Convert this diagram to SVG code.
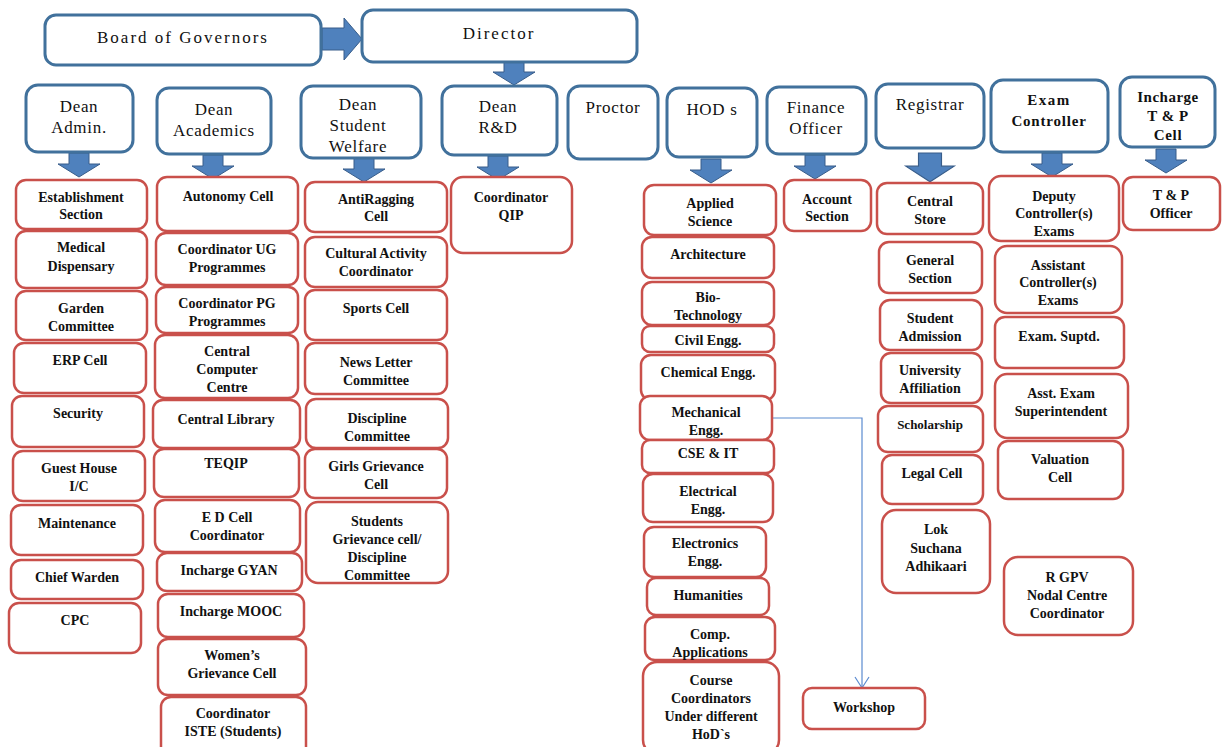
<svg xmlns="http://www.w3.org/2000/svg" xmlns:xlink="http://www.w3.org/1999/xlink" width="1222" height="747" viewBox="0 0 1222 747">
<style>
.hd{fill:#fff;stroke:#41719c;stroke-width:3}
.ch{fill:#fff;stroke:#c9504b;stroke-width:2.5}
.ht{font-family:"Liberation Serif",serif;font-size:17px;fill:#111;text-anchor:middle;letter-spacing:0.7px}
.ct{font-family:"Liberation Serif",serif;font-size:14px;font-weight:bold;fill:#111;text-anchor:middle}
.arr{fill:#4f81bd;stroke:#385d8a;stroke-width:1}
.ln{fill:none;stroke:#5b8bd0;stroke-width:1.2}
</style>
<defs>
<path id="darr" d="M-10,0 H10 V11 H21 L0,24 L-21,11 H-10 Z"/>
<marker id="open" markerWidth="14" markerHeight="16" refX="12" refY="8" orient="auto" markerUnits="userSpaceOnUse">
<path d="M1,1 L12,8 L1,15" fill="none" stroke="#5b8bd0" stroke-width="1.2"/>
</marker>
</defs>
<rect width="1222" height="747" fill="#fff"/>

<g id="connectors">
<path class="arr" d="M322,28 H344 V18 L362,39 L344,60 V50 H322 Z"/>
<use href="#darr" class="arr" x="514" y="61"/>
<use href="#darr" class="arr" x="79" y="153"/>
<use href="#darr" class="arr" x="213" y="155"/>
<use href="#darr" class="arr" x="364" y="158"/>
<use href="#darr" class="arr" x="498" y="156"/>
<use href="#darr" class="arr" x="711" y="159"/>
<use href="#darr" class="arr" x="815" y="155"/>
<use href="#darr" class="arr" transform="translate(930,153) scale(1.15,1.2)"/>
<use href="#darr" class="arr" x="1052" y="153"/>
<use href="#darr" class="arr" x="1166" y="149"/>
<path class="ln" d="M772,418 H862 V688" marker-end="url(#open)"/>
</g>

<g id="board"><rect class="hd" x="45" y="15" width="276" height="50" rx="11"/><text class="ht" x="183" y="43" style="letter-spacing:2px">Board of Governors</text></g>
<g id="director"><rect class="hd" x="362" y="10" width="275" height="52" rx="11"/><text class="ht" x="499" y="39" style="letter-spacing:2px">Director</text></g>

<g id="dean-admin"><rect class="hd" x="26" y="85" width="107" height="67" rx="12"/><text class="ht" x="79" y="112">Dean</text><text class="ht" x="79" y="133">Admin.</text></g>
<g id="dean-academics"><rect class="hd" x="157" y="88" width="114" height="66" rx="12"/><text class="ht" x="214" y="115">Dean</text><text class="ht" x="214" y="136">Academics</text></g>
<g id="dean-sw"><rect class="hd" x="301" y="86" width="120" height="72" rx="12"/><text class="ht" x="358" y="110">Dean</text><text class="ht" x="358" y="131">Student</text><text class="ht" x="358" y="152">Welfare</text></g>
<g id="dean-rd"><rect class="hd" x="442" y="86" width="115" height="69" rx="12"/><text class="ht" x="498" y="112">Dean</text><text class="ht" x="498" y="133">R&amp;D</text></g>
<g id="proctor"><rect class="hd" x="568" y="86" width="90" height="73" rx="12"/><text class="ht" x="613" y="113">Proctor</text></g>
<g id="hods"><rect class="hd" x="667" y="88" width="90" height="69" rx="12"/><text class="ht" x="712" y="115">HOD s</text></g>
<g id="finance"><rect class="hd" x="767" y="87" width="99" height="67" rx="12"/><text class="ht" x="816" y="113">Finance</text><text class="ht" x="816" y="134">Officer</text></g>
<g id="registrar"><rect class="hd" x="876" y="84" width="108" height="64" rx="12"/><text class="ht" x="930" y="110">Registrar</text></g>
<g id="exam-controller"><rect class="hd" x="991" y="80" width="117" height="72" rx="12"/><text class="ht" x="1049" y="105" style="font-size:15px;font-weight:bold;letter-spacing:1.5px">Exam</text><text class="ht" x="1049" y="126" style="font-size:15px;font-weight:bold;letter-spacing:0.8px">Controller</text></g>
<g id="tp-cell"><rect class="hd" x="1120" y="77" width="95" height="70" rx="12"/><text class="ht" x="1168" y="102" style="font-size:15px;font-weight:bold;letter-spacing:0.5px">Incharge</text><text class="ht" x="1168" y="121" style="font-size:15px;font-weight:bold;letter-spacing:0.5px">T &amp; P</text><text class="ht" x="1168" y="140" style="font-size:15px;font-weight:bold">Cell</text></g>

<!-- Dean Admin column -->
<g id="establishment"><rect class="ch" x="16" y="180" width="131" height="49" rx="10"/><text class="ct" x="81" y="202">Establishment</text><text class="ct" x="81" y="219">Section</text></g>
<g id="medical"><rect class="ch" x="16" y="231" width="131" height="57" rx="10"/><text class="ct" x="81" y="252">Medical</text><text class="ct" x="81" y="271">Dispensary</text></g>
<g id="garden"><rect class="ch" x="16" y="291" width="131" height="49" rx="10"/><text class="ct" x="81" y="313">Garden</text><text class="ct" x="81" y="331">Committee</text></g>
<g id="erp"><rect class="ch" x="14" y="343" width="132" height="50" rx="10"/><text class="ct" x="80" y="365">ERP Cell</text></g>
<g id="security"><rect class="ch" x="12" y="396" width="132" height="51" rx="10"/><text class="ct" x="78" y="418">Security</text></g>
<g id="guesthouse"><rect class="ch" x="13" y="451" width="132" height="50" rx="10"/><text class="ct" x="79" y="473">Guest House</text><text class="ct" x="79" y="491">I/C</text></g>
<g id="maintenance"><rect class="ch" x="11" y="505" width="132" height="50" rx="10"/><text class="ct" x="77" y="528">Maintenance</text></g>
<g id="chiefwarden"><rect class="ch" x="11" y="560" width="132" height="39" rx="10"/><text class="ct" x="77" y="582">Chief  Warden</text></g>
<g id="cpc"><rect class="ch" x="9" y="603" width="132" height="50" rx="10"/><text class="ct" x="75" y="625">CPC</text></g>

<!-- Dean Academics column -->
<g id="autonomy"><rect class="ch" x="157" y="177" width="141" height="54" rx="10"/><text class="ct" x="228" y="201">Autonomy Cell</text></g>
<g id="ug"><rect class="ch" x="156" y="233" width="142" height="52" rx="10"/><text class="ct" x="227" y="254">Coordinator UG</text><text class="ct" x="227" y="272">Programmes</text></g>
<g id="pg"><rect class="ch" x="156" y="287" width="142" height="46" rx="10"/><text class="ct" x="227" y="308">Coordinator PG</text><text class="ct" x="227" y="326">Programmes</text></g>
<g id="ccc"><rect class="ch" x="155" y="335" width="143" height="63" rx="10"/><text class="ct" x="227" y="356">Central</text><text class="ct" x="227" y="374">Computer</text><text class="ct" x="227" y="392">Centre</text></g>
<g id="library"><rect class="ch" x="153" y="400" width="147" height="48" rx="10"/><text class="ct" x="226" y="424">Central Library</text></g>
<g id="teqip"><rect class="ch" x="154" y="449" width="145" height="48" rx="10"/><text class="ct" x="226" y="468">TEQIP</text></g>
<g id="edcell"><rect class="ch" x="155" y="500" width="145" height="52" rx="10"/><text class="ct" x="227" y="522">E D Cell</text><text class="ct" x="227" y="540">Coordinator</text></g>
<g id="gyan"><rect class="ch" x="157" y="553" width="145" height="38" rx="10"/><text class="ct" x="229" y="575">Incharge GYAN</text></g>
<g id="mooc"><rect class="ch" x="158" y="594" width="146" height="43" rx="10"/><text class="ct" x="231" y="616">Incharge MOOC</text></g>
<g id="womens"><rect class="ch" x="158" y="639" width="148" height="56" rx="10"/><text class="ct" x="232" y="660">Women’s</text><text class="ct" x="232" y="678">Grievance  Cell</text></g>
<g id="iste"><rect class="ch" x="161" y="697" width="145" height="62" rx="10"/><text class="ct" x="233" y="718">Coordinator</text><text class="ct" x="233" y="736">ISTE (Students)</text></g>

<!-- Dean Student Welfare column -->
<g id="antiragging"><rect class="ch" x="305" y="182" width="142" height="50" rx="10"/><text class="ct" x="376" y="204">AntiRagging</text><text class="ct" x="376" y="221">Cell</text></g>
<g id="cultural"><rect class="ch" x="305" y="237" width="142" height="50" rx="10"/><text class="ct" x="376" y="258">Cultural Activity</text><text class="ct" x="376" y="276">Coordinator</text></g>
<g id="sports"><rect class="ch" x="305" y="290" width="142" height="50" rx="10"/><text class="ct" x="376" y="313">Sports Cell</text></g>
<g id="newsletter"><rect class="ch" x="305" y="343" width="142" height="51" rx="10"/><text class="ct" x="376" y="367">News Letter</text><text class="ct" x="376" y="385">Committee</text></g>
<g id="discipline"><rect class="ch" x="306" y="399" width="142" height="49" rx="10"/><text class="ct" x="377" y="423">Discipline</text><text class="ct" x="377" y="441">Committee</text></g>
<g id="girls"><rect class="ch" x="305" y="449" width="142" height="49" rx="10"/><text class="ct" x="376" y="471">Girls  Grievance</text><text class="ct" x="376" y="489">Cell</text></g>
<g id="studentsgrievance"><rect class="ch" x="306" y="502" width="142" height="81" rx="12"/><text class="ct" x="377" y="526">Students</text><text class="ct" x="377" y="544">Grievance cell/</text><text class="ct" x="377" y="562">Discipline</text><text class="ct" x="377" y="580">Committee</text></g>

<!-- Dean R&D -->
<g id="qip"><rect class="ch" x="451" y="177" width="121" height="76" rx="12"/><text class="ct" x="511" y="202">Coordinator</text><text class="ct" x="511" y="220">QIP</text></g>

<!-- HODs column -->
<g id="applied"><rect class="ch" x="644" y="185" width="132" height="50" rx="10"/><text class="ct" x="710" y="208">Applied</text><text class="ct" x="710" y="226">Science</text></g>
<g id="architecture"><rect class="ch" x="642" y="237" width="132" height="41" rx="10"/><text class="ct" x="708" y="259">Architecture</text></g>
<g id="biotech"><rect class="ch" x="642" y="282" width="132" height="43" rx="10"/><text class="ct" x="708" y="302">Bio-</text><text class="ct" x="708" y="320">Technology</text></g>
<g id="civil"><rect class="ch" x="642" y="326" width="132" height="26" rx="8"/><text class="ct" x="708" y="345">Civil  Engg.</text></g>
<g id="chemical"><rect class="ch" x="641" y="355" width="134" height="45" rx="10"/><text class="ct" x="708" y="377">Chemical Engg.</text></g>
<g id="mechanical"><rect class="ch" x="640" y="396" width="132" height="44" rx="10"/><text class="ct" x="706" y="417">Mechanical</text><text class="ct" x="706" y="435">Engg.</text></g>
<g id="cse"><rect class="ch" x="642" y="440" width="132" height="33" rx="8"/><text class="ct" x="708" y="458">CSE &amp; IT</text></g>
<g id="electrical"><rect class="ch" x="643" y="474" width="130" height="48" rx="10"/><text class="ct" x="708" y="496">Electrical</text><text class="ct" x="708" y="514">Engg.</text></g>
<g id="electronics"><rect class="ch" x="644" y="527" width="122" height="50" rx="10"/><text class="ct" x="705" y="548">Electronics</text><text class="ct" x="705" y="566">Engg.</text></g>
<g id="humanities"><rect class="ch" x="647" y="578" width="122" height="37" rx="9"/><text class="ct" x="708" y="600">Humanities</text></g>
<g id="compapp"><rect class="ch" x="645" y="617" width="130" height="43" rx="10"/><text class="ct" x="710" y="639">Comp.</text><text class="ct" x="710" y="657">Applications</text></g>
<g id="coursecoord"><rect class="ch" x="643" y="662" width="136" height="92" rx="14"/><text class="ct" x="711" y="685">Course</text><text class="ct" x="711" y="703">Coordinators</text><text class="ct" x="711" y="721">Under different</text><text class="ct" x="711" y="739">HoD`s</text></g>

<!-- Finance -->
<g id="account"><rect class="ch" x="784" y="180" width="87" height="51" rx="10"/><text class="ct" x="827" y="204">Account</text><text class="ct" x="827" y="221">Section</text></g>
<g id="workshop"><rect class="ch" x="803" y="688" width="122" height="41" rx="9"/><text class="ct" x="864" y="712">Workshop</text></g>

<!-- Registrar column -->
<g id="centralstore"><rect class="ch" x="877" y="183" width="106" height="51" rx="10"/><text class="ct" x="930" y="206">Central</text><text class="ct" x="930" y="224">Store</text></g>
<g id="general"><rect class="ch" x="879" y="242" width="103" height="51" rx="10"/><text class="ct" x="930" y="265">General</text><text class="ct" x="930" y="283">Section</text></g>
<g id="admission"><rect class="ch" x="880" y="300" width="102" height="50" rx="10"/><text class="ct" x="930" y="323">Student</text><text class="ct" x="930" y="341">Admission</text></g>
<g id="affiliation"><rect class="ch" x="881" y="353" width="101" height="50" rx="10"/><text class="ct" x="930" y="375">University</text><text class="ct" x="930" y="393">Affiliation</text></g>
<g id="scholarship"><rect class="ch" x="878" y="406" width="105" height="46" rx="10"/><text class="ct" x="930" y="429" style="font-size:13px">Scholarship</text></g>
<g id="legal"><rect class="ch" x="882" y="455" width="101" height="49" rx="10"/><text class="ct" x="932" y="478">Legal Cell</text></g>
<g id="lok"><rect class="ch" x="882" y="510" width="108" height="83" rx="14"/><text class="ct" x="936" y="534">Lok</text><text class="ct" x="936" y="553">Suchana</text><text class="ct" x="936" y="571">Adhikaari</text></g>

<!-- Exam column -->
<g id="deputy"><rect class="ch" x="989" y="176" width="130" height="65" rx="12"/><text class="ct" x="1054" y="201">Deputy</text><text class="ct" x="1054" y="218">Controller(s)</text><text class="ct" x="1054" y="236">Exams</text></g>
<g id="assistant"><rect class="ch" x="995" y="246" width="127" height="67" rx="12"/><text class="ct" x="1058" y="270">Assistant</text><text class="ct" x="1058" y="287">Controller(s)</text><text class="ct" x="1058" y="305">Exams</text></g>
<g id="suptd"><rect class="ch" x="995" y="317" width="129" height="51" rx="10"/><text class="ct" x="1059" y="341">Exam. Suptd.</text></g>
<g id="asstexam"><rect class="ch" x="995" y="374" width="133" height="64" rx="12"/><text class="ct" x="1061" y="398">Asst. Exam</text><text class="ct" x="1061" y="416">Superintendent</text></g>
<g id="valuation"><rect class="ch" x="998" y="441" width="125" height="58" rx="10"/><text class="ct" x="1060" y="464">Valuation</text><text class="ct" x="1060" y="482">Cell</text></g>
<g id="rgpv"><rect class="ch" x="1004" y="557" width="129" height="78" rx="14"/><text class="ct" x="1067" y="582">R GPV</text><text class="ct" x="1067" y="600">Nodal Centre</text><text class="ct" x="1067" y="618">Coordinator</text></g>

<!-- T&P -->
<g id="tpofficer"><rect class="ch" x="1123" y="177" width="97" height="53" rx="10"/><text class="ct" x="1171" y="200">T &amp; P</text><text class="ct" x="1171" y="218">Officer</text></g>
</svg>
